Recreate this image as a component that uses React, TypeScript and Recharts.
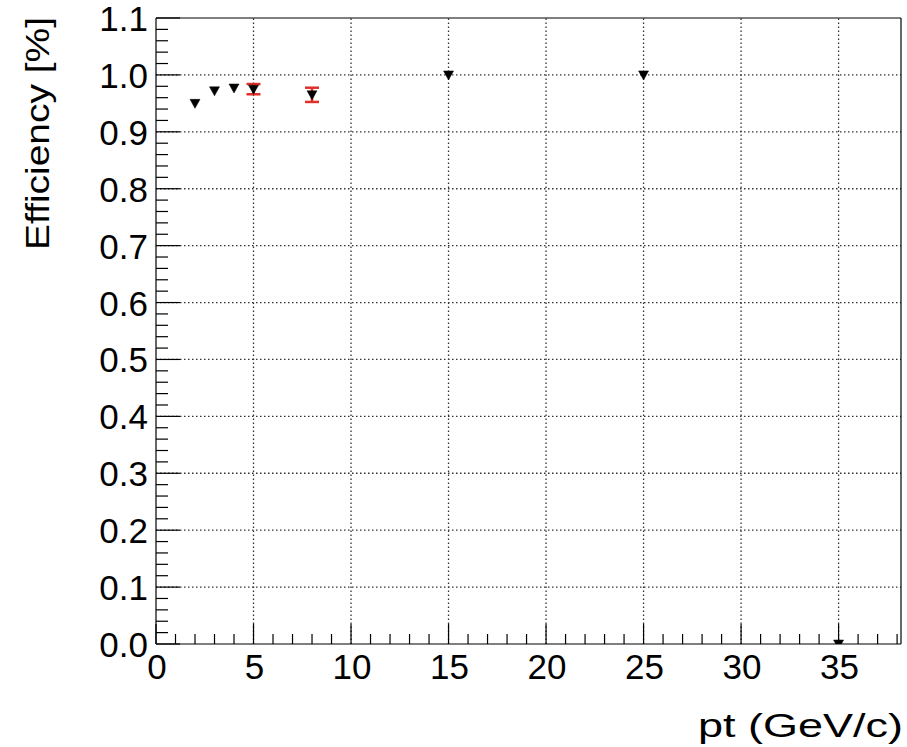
import React from 'react';
import {
  ComposedChart,
  Scatter,
  XAxis,
  YAxis,
  ErrorBar,
  ReferenceLine,
} from 'recharts';

// ---- data ----
const ptValues = [2, 3, 4, 5, 8, 15, 25, 35];
const efficiencyValues = [0.95, 0.972, 0.977, 0.975, 0.965, 1.0, 1.0, 0.0];
const errorValues = [0, 0, 0, 0.009, 0.0125, 0, 0, 0];

const xMajorTicks = [0, 5, 10, 15, 20, 25, 30, 35];
const xAllTicks = [
  0, 1, 2, 3, 4, 5, 6, 7, 8, 9, 10, 11, 12, 13, 14, 15, 16, 17, 18, 19, 20,
  21, 22, 23, 24, 25, 26, 27, 28, 29, 30, 31, 32, 33, 34, 35, 36, 37, 38,
];
const yTickLabels = ['0.0', '0.1', '0.2', '0.3', '0.4', '0.5', '0.6', '0.7', '0.8', '0.9', '1.0', '1.1'];
const yMajorTicks = yTickLabels.map((s) => parseFloat(s));
const yAllTicks: number[] = [];
for (let i = 0; i <= 55; i++) yAllTicks.push(Math.round(i * 2) / 100);

const X_DOMAIN: [number, number] = [0, 38.2];
const Y_DOMAIN: [number, number] = [0, 1.1];

const data = ptValues.map((x, i) => ({ x, y: efficiencyValues[i], err: errorValues[i] }));

const FONT = '"Liberation Sans", Arial, Helvetica, sans-serif';

const XTick = (props: any) => {
  const { x, y, payload } = props;
  const v = payload.value as number;
  const major = xMajorTicks.includes(v);
  return (
    <g>
      <line x1={x} x2={x} y1={y} y2={y - (major ? 20 : 10)} stroke="#000" strokeWidth={1.2} />
      {major && (
        <text x={x + 1} y={y + 35} textAnchor="middle" fontSize={35} fontFamily={FONT} fill="#000">
          {v}
        </text>
      )}
    </g>
  );
};

const YTick = (props: any) => {
  const { x, y, payload } = props;
  const v = payload.value as number;
  const idx = yMajorTicks.findIndex((m) => Math.abs(m - v) < 1e-6);
  const major = idx >= 0;
  return (
    <g>
      <line x1={x} x2={x + (major ? 24 : 12)} y1={y} y2={y} stroke="#000" strokeWidth={1.2} />
      {major && (
        <text x={x - 8} y={y + 13} textAnchor="end" fontSize={35} fontFamily={FONT} fill="#000">
          {yTickLabels[idx]}
        </text>
      )}
    </g>
  );
};

const TriangleDown = (props: any) => {
  const { cx, cy } = props;
  if (cx == null || cy == null) return null;
  const pts = `${cx - 5},${cy - 4} ${cx + 5},${cy - 4} ${cx},${cy + 5}`;
  return <polygon points={pts} fill="#000" stroke="#000" strokeWidth={0.5} />;
};

const XTitle = () => (
  <text
    x={903}
    y={737}
    textAnchor="end"
    fontSize={34}
    fontFamily={FONT}
    fill="#000"
    textLength={205}
    lengthAdjust="spacingAndGlyphs"
  >
    pt (GeV/c)
  </text>
);

const YTitle = () => (
  <text
    transform="translate(49,17) rotate(-90)"
    textAnchor="end"
    fontSize={33}
    fontFamily={FONT}
    fill="#000"
    textLength={233}
    lengthAdjust="spacingAndGlyphs"
  >
    Efficiency [%]
  </text>
);

export default function App() {
  return (
    <div style={{ position: 'absolute', left: 0, top: 0, width: 907, height: 747, background: '#fff' }}>
      <ComposedChart
        width={907}
        height={747}
        data={data}
        margin={{ top: 18, right: 6, bottom: 0, left: 0 }}
      >
        <XAxis
          type="number"
          dataKey="x"
          domain={X_DOMAIN}
          ticks={xAllTicks}
          interval={0}
          tickSize={0}
          tickMargin={0}
          tickLine={false}
          tick={<XTick />}
          axisLine={{ stroke: '#000', strokeWidth: 1.2 }}
          height={103}
          allowDataOverflow
          label={() => <XTitle />}
        />
        <YAxis
          type="number"
          dataKey="y"
          domain={Y_DOMAIN}
          ticks={yAllTicks}
          interval={0}
          tickSize={0}
          tickMargin={0}
          tickLine={false}
          tick={<YTick />}
          axisLine={{ stroke: '#000', strokeWidth: 1.2 }}
          width={156}
          allowDataOverflow
          label={() => <YTitle />}
        />
        {xMajorTicks
          .filter((v) => v > 0)
          .map((v) => (
            <ReferenceLine key={`gx${v}`} x={v} stroke="#333" strokeDasharray="1.5 2.5" strokeWidth={1.3} />
          ))}
        {yMajorTicks
          .filter((v) => v > 0 && v < 1.1)
          .map((v) => (
            <ReferenceLine key={`gy${v}`} y={v} stroke="#333" strokeDasharray="1.5 2.5" strokeWidth={1.3} />
          ))}
        <ReferenceLine y={Y_DOMAIN[1]} stroke="#000" strokeWidth={1.2} />
        <ReferenceLine x={X_DOMAIN[1]} stroke="#000" strokeWidth={1.2} />
        <Scatter dataKey="y" fill="#000" shape={<TriangleDown />} isAnimationActive={false}>
          <ErrorBar dataKey="err" direction="y" width={7} stroke="#e0302a" strokeWidth={2.5} />
        </Scatter>
      </ComposedChart>
    </div>
  );
}
